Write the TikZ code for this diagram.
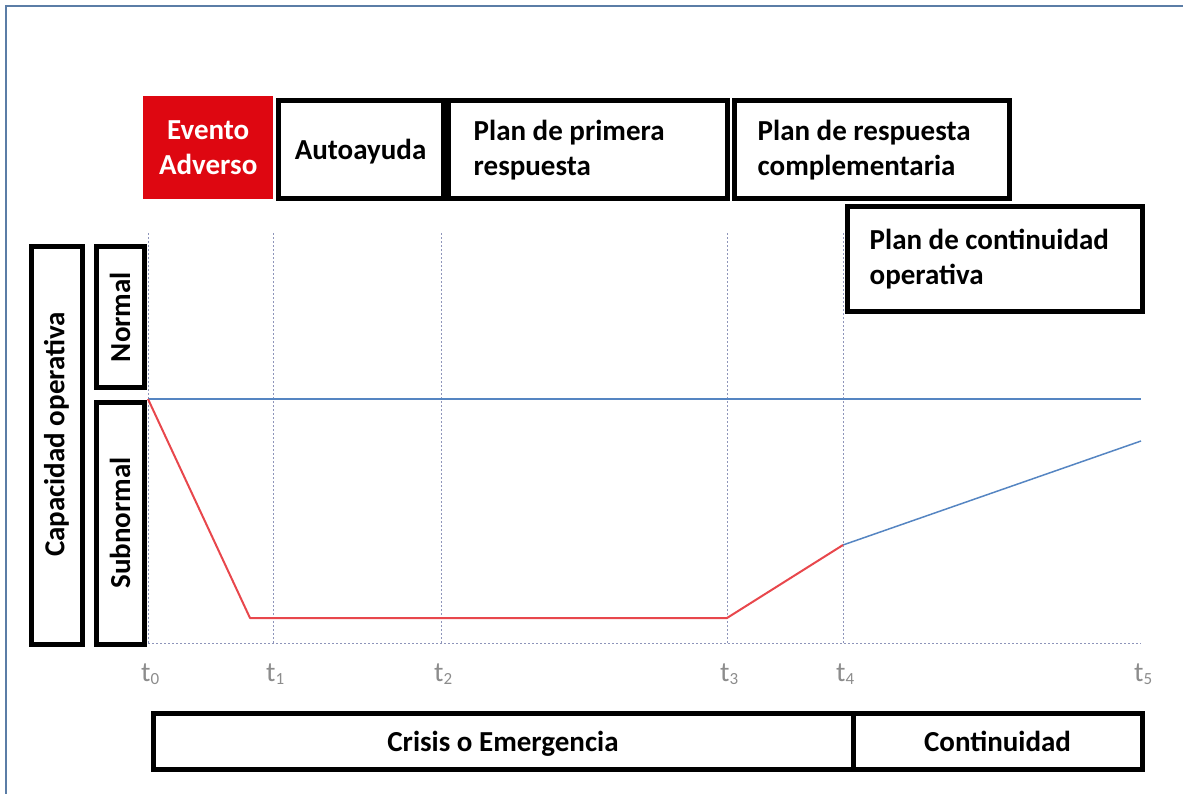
\documentclass[tikz,border=0pt]{standalone}
\usepackage{fontspec}
\setmainfont{Carlito}
\usepackage{tikz}
\usetikzlibrary{positioning}
\definecolor{EventoRed}{HTML}{DE0711}
\definecolor{LineBlue}{HTML}{5585C2}
\definecolor{LineRed}{HTML}{E8474C}
\definecolor{GridGray}{HTML}{8E95BA}
\definecolor{FrameBlue}{HTML}{5B7DA6}

\begin{document}
\begin{tikzpicture}[x=1pt, y=-1pt,
  box/.style={draw=black, line width=5pt, fill=white, inner sep=0pt, anchor=north west},
  boxtext/.style={inner sep=0pt, align=left, font=\fontsize{29}{35}\selectfont\bfseries},
  grid line/.style={GridGray, line width=1pt, dash pattern=on 2pt off 2pt},
  tick/.style={anchor=west, inner sep=0pt, text=gray!90, font=\fontsize{28}{28}\selectfont}]
  \useasboundingbox (0,0) rectangle (1183,794);
  \draw[FrameBlue, line width=2pt] (6,800) -- (6,6) -- (1190,6);

  % time marks
  \foreach \n/\x in {0/148, 1/273, 2/441, 3/727, 4/843, 5/1141}
    \coordinate (t\n) at (\x,643);
  \foreach \n in {0,...,4}
    \draw[grid line] (t\n) -- ++(0,-410);
  \draw[grid line] (t0) -- (t5);
  \foreach \n in {0,...,5}
    \node[tick] (lab\n) at ([xshift=-7pt, yshift=-31pt]t\n) {t\raisebox{-3pt}{\fontsize{17}{17}\selectfont\n}};

  % capacity curves
  \coordinate (p0) at (148,399);
  \coordinate (p1) at (250,618);
  \coordinate (p2) at (727,618);
  \coordinate (p3) at (843,545);
  \coordinate (p4) at (1141,441);
  \coordinate (n5) at (1141,399);
  \draw[LineBlue, line width=2.2pt] (p0) -- (n5);
  \draw[LineBlue, line width=1.5pt] (p3) -- (p4);
  \draw[LineRed, line width=2pt, line join=round] (p0) -- (p1) -- (p2) -- (p3);

  % top row of phases
  \node[fill=EventoRed, anchor=north west, minimum width=130pt, minimum height=103pt, inner sep=0pt] (evento) at (143,96) {};
  \node[boxtext, text=white, align=center] (eventoText) at (evento.center) {Evento\\Adverso};
  \node[box, minimum width=165pt, minimum height=98pt] (auto) at (275.5,98.5) {};
  \node[boxtext, anchor=base] (autoText) at ([yshift=-10pt]auto.center) {Autoayuda};
  \node[box, minimum width=279pt, minimum height=98pt] (primera) at (445.5,98.5) {};
  \node[boxtext, anchor=west] (primeraText) at ([xshift=28pt]primera.west) {Plan de primera\\respuesta};
  \node[box, minimum width=275pt, minimum height=98pt] (compl) at (731.5,98.5) {};
  \node[boxtext, anchor=west] (complText) at ([xshift=26pt]compl.west) {Plan de respuesta\\complementaria};
  \node[box, minimum width=295pt, minimum height=104pt] (cont) at (844.5,204.5) {};
  \node[boxtext, anchor=west] (contText) at ([xshift=25pt]cont.west) {Plan de continuidad\\operativa};

  % left axis boxes
  \node[box, minimum width=51pt, minimum height=397pt] (capac) at (28.5,244.5) {};
  \node[boxtext, rotate=90] (capacText) at ([yshift=11pt]capac.center) {Capacidad operativa};
  \node[box, minimum width=48pt, minimum height=140pt] (normal) at (93.5,244.5) {};
  \node[boxtext, rotate=90] (normalText) at (normal.center) {Normal};
  \node[box, minimum width=48pt, minimum height=242pt] (subnormal) at (93.5,399.5) {};
  \node[boxtext, rotate=90] (subnormalText) at (subnormal.center) {Subnormal};

  % bottom row
  \node[box, minimum width=700pt, minimum height=56pt] (crisis) at (150.5,710.5) {};
  \node[boxtext, anchor=base] (crisisText) at ([yshift=-10pt]crisis.center) {Crisis o Emergencia};
  \node[box, minimum width=289pt, minimum height=56pt] (contin) at (850.5,710.5) {};
  \node[boxtext, anchor=base] (continText) at ([yshift=-10pt]contin.center) {Continuidad};
\end{tikzpicture}
\end{document}
